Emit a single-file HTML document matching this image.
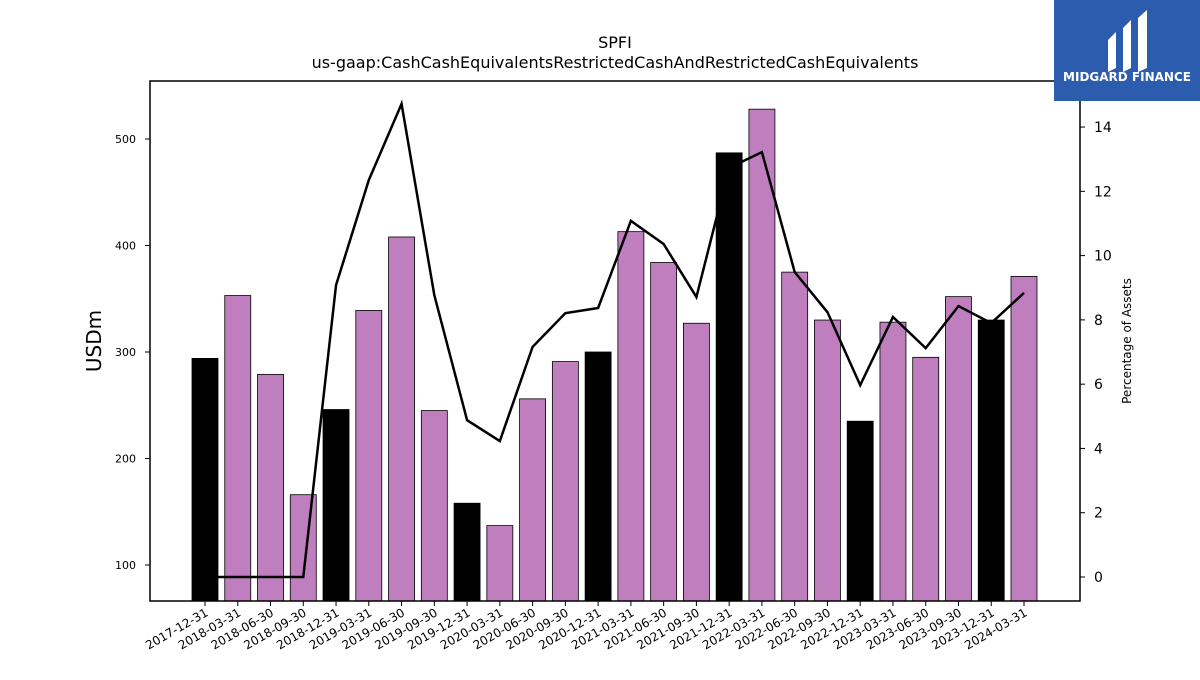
<!DOCTYPE html>
<html><head><meta charset="utf-8"><style>
body{margin:0;background:#fff;font-family:"Liberation Sans","DejaVu Sans",sans-serif}
svg text{font-family:"DejaVu Sans","Liberation Sans",sans-serif}
</style></head><body>
<svg id="c" width="1200" height="675" xmlns="http://www.w3.org/2000/svg">
<text x="615" y="48" text-anchor="middle" font-size="16">SPFI</text>
<text x="615" y="68" text-anchor="middle" font-size="16">us-gaap:CashCashEquivalentsRestrictedCashAndRestrictedCashEquivalents</text>
<g id="plot"></g>
<text transform="translate(101,341) rotate(-90)" text-anchor="middle" font-size="20">USDm</text>
<text transform="translate(1131,341) rotate(-90)" text-anchor="middle" font-size="12">Percentage of Assets</text>
<g>
<rect x="1054" y="0" width="146" height="101" fill="#2b5cad"/>
<path d="M1108 40 L1116 32 L1116 68 L1108 72 Z" fill="#fff"/>
<path d="M1123 28 L1131 20 L1131 68 L1123 72 Z" fill="#fff"/>
<path d="M1138 18 L1147 10 L1147 68 L1138 72 Z" fill="#fff"/>
<text x="1127" y="81" text-anchor="middle" font-size="12" font-weight="bold" fill="#fff">MIDGARD FINANCE</text>
</g>
</svg>
<script>
const categories=["2017-12-31","2018-03-31","2018-06-30","2018-09-30","2018-12-31","2019-03-31","2019-06-30","2019-09-30","2019-12-31","2020-03-31","2020-06-30","2020-09-30","2020-12-31","2021-03-31","2021-06-30","2021-09-30","2021-12-31","2022-03-31","2022-06-30","2022-09-30","2022-12-31","2023-03-31","2023-06-30","2023-09-30","2023-12-31","2024-03-31"];
const cashValues=[294,353,279,166,246,339,408,245,158,137,256,291,300,413,384,327,487,528,375,330,235,328,295,352,330,371];
const pctValues=[0,0,0,0,9.08,12.35,14.72,8.77,4.88,4.23,7.16,8.21,8.37,11.08,10.36,8.71,12.73,13.22,9.49,8.24,5.97,8.09,7.12,8.43,7.9,8.84];
const leftTicks=[100,200,300,400,500];
const rightTicks=[0,2,4,6,8,10,12,14];
const NS="http://www.w3.org/2000/svg";
const L=150,R=1080,T=81,B=601;
const y=v=>565-(v-100)*1.065;
const y2=v=>577-v*32.14;
const x=i=>205+i*(819/(categories.length-1));
const g=document.getElementById('plot');
function mk(t,a){const e=document.createElementNS(NS,t);for(const k in a)e.setAttribute(k,a[k]);g.appendChild(e);return e;}
categories.forEach((c,i)=>{
 const isYE=c.endsWith("12-31");
 const r=mk('rect',{x:x(i)-13,y:y(cashValues[i]),width:26,height:B-y(cashValues[i]),fill:isYE?'#000':'#bf7fbf',stroke:'#000','stroke-width':0.8});
 
 
 const tk=mk('line',{x1:x(i),x2:x(i),y1:B,y2:B+5,stroke:'#000'});
 
 
 const t=mk('text',{transform:`translate(${x(i)+4},${B+14}) rotate(-30)`,'text-anchor':'end','font-size':12});
 t.textContent=c;
 
 
});
const pl=mk('polyline',{points:pctValues.map((v,i)=>x(i)+','+y2(v)).join(' '),fill:'none',stroke:'#000','stroke-width':2.5});


leftTicks.forEach(v=>{
 const l=mk('line',{x1:L-5,x2:L,y1:y(v),y2:y(v),stroke:'#000'});
 
 
 const t=mk('text',{x:L-14,y:y(v)+4,'text-anchor':'end','font-size':11});
 t.textContent=v;
 
 
});
rightTicks.forEach(v=>{
 const l=mk('line',{x1:R,x2:R+5,y1:y2(v),y2:y2(v),stroke:'#000'});
 
 
 const t=mk('text',{x:R+14,y:y2(v)+5,'font-size':14});
 t.textContent=v;
 
 
});
const fr=mk('rect',{x:L,y:T,width:R-L,height:B-T,fill:'none',stroke:'#000','stroke-width':1.5});


</script>
</body></html>
